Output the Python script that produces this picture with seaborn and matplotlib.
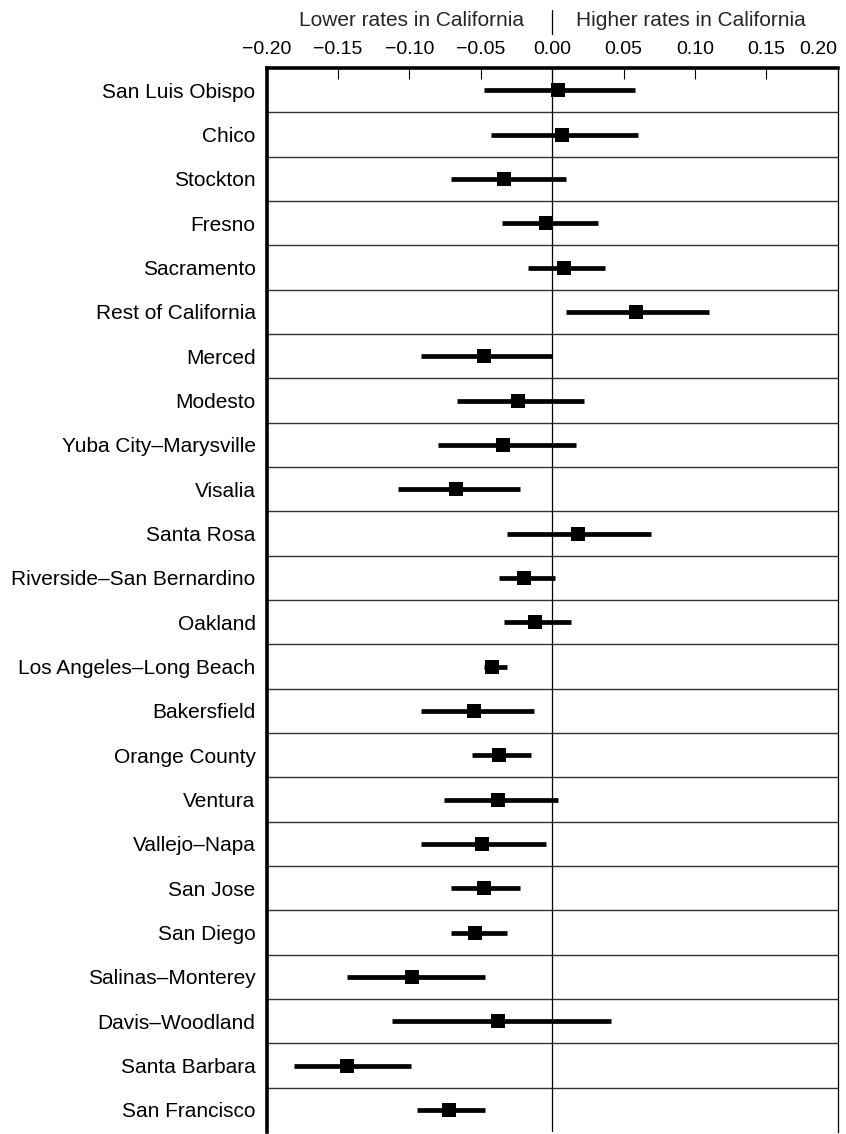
import numpy as np
import pandas as pd
import matplotlib
matplotlib.use("Agg")
import matplotlib.pyplot as plt
import matplotlib.transforms as mtransforms
from matplotlib.lines import Line2D
import seaborn as sns

# ---------------- data ----------------
CITIES = [
    "San Luis Obispo", "Chico", "Stockton", "Fresno", "Sacramento",
    "Rest of California", "Merced", "Modesto", "Yuba City–Marysville",
    "Visalia", "Santa Rosa", "Riverside–San Bernardino", "Oakland",
    "Los Angeles–Long Beach", "Bakersfield", "Orange County", "Ventura",
    "Vallejo–Napa", "San Jose", "San Diego", "Salinas–Monterey",
    "Davis–Woodland", "Santa Barbara", "San Francisco",
]
ESTIMATE = [0.004, 0.007, -0.034, -0.0045, 0.008, 0.0586, -0.0476, -0.024,
            -0.0346, -0.0675, 0.018, -0.020, -0.012, -0.0424, -0.055, -0.037,
            -0.038, -0.049, -0.048, -0.054, -0.098, -0.038, -0.144, -0.072]
LOWER = [-0.048, -0.043, -0.071, -0.035, -0.017, 0.0094, -0.0916, -0.067,
         -0.080, -0.108, -0.032, -0.037, -0.0335, -0.048, -0.0916, -0.056,
         -0.076, -0.0916, -0.071, -0.071, -0.144, -0.112, -0.181, -0.095]
UPPER = [0.058, 0.060, 0.0094, 0.032, 0.037, 0.110, 0.0, 0.0225,
         0.017, -0.0225, 0.069, 0.002, 0.013, -0.032, -0.013, -0.015,
         0.004, -0.004, -0.0225, -0.032, -0.047, 0.041, -0.099, -0.047]
TICKS = [-0.20, -0.15, -0.10, -0.05, 0.00, 0.05, 0.10, 0.15, 0.20]
TICK_LABELS = ["−0.20", "−0.15", "−0.10", "−0.05", "0.00",
               "0.05", "0.10", "0.15", "0.20"]
HEADER_LEFT = "Lower rates in California"
HEADER_RIGHT = "Higher rates in California"

# long table: lower / estimate / upper per city
rows = []
for c, lo, est, hi in zip(CITIES, LOWER, ESTIMATE, UPPER):
    for v in (lo, est, hi):
        rows.append({"city": c, "value": v})
df = pd.DataFrame(rows)

# ---------------- style ----------------
sns.set_style("white")
plt.rcParams["font.family"] = ["Liberation Sans", "DejaVu Sans"]

W, H = 846, 1134
fig = plt.figure(figsize=(W / 100, H / 100), dpi=100)
ax_left, ax_right = 266.7, 837.7
ax_top, ax_bot = 68.0, 1132.0
ax = fig.add_axes([ax_left / W, 1 - ax_bot / H,
                   (ax_right - ax_left) / W, (ax_bot - ax_top) / H])

# row separators and zero line
for i in range(1, len(CITIES)):
    ax.axhline(i - 0.5, color="#333333", lw=1.0, zorder=0.5)
ax.axvline(0, color="black", lw=0.9, zorder=0.6)

sns.pointplot(
    data=df, x="value", y="city", order=CITIES, orient="h",
    estimator=np.median,
    errorbar=lambda v: (v.min(), v.max()),
    markers="s", linestyles="none", color="black",
    err_kws={"linewidth": 3.4, "solid_capstyle": "butt"},
    markersize=9.5, markeredgewidth=0,
    ax=ax,
)

ax.set_xlim(-0.20, 0.20)
ax.set_ylim(len(CITIES) - 0.5, -0.5)
ax.set_xlabel("")
ax.set_ylabel("")

# x axis on top
ax.xaxis.tick_top()
ax.set_xticks(TICKS)
ax.set_xticklabels(TICK_LABELS, fontsize=14)
ax.tick_params(axis="x", direction="in", length=8, width=0.8, pad=7,
               top=True, bottom=False, colors="black")
labels = ax.get_xticklabels()
labels[-1].set_ha("right")

ax.tick_params(axis="y", length=0, pad=8, labelsize=15, colors="black")

# spines
for s in ax.spines.values():
    s.set_color("black")
ax.spines["left"].set_linewidth(2.6)
ax.spines["top"].set_linewidth(2.6)
ax.spines["right"].set_linewidth(0.9)
ax.spines["bottom"].set_visible(False)

# header
blend = mtransforms.blended_transform_factory(ax.transData, fig.transFigure)
y_head = 1 - 20.5 / H
fig.text(0, y_head, HEADER_LEFT, fontsize=15, ha="right", va="center",
         transform=mtransforms.offset_copy(blend, fig=fig, x=-20.6, y=0, units="points"))
fig.text(0, y_head, HEADER_RIGHT, fontsize=15, ha="left", va="center",
         transform=mtransforms.offset_copy(blend, fig=fig, x=17.0, y=0, units="points"))
fig.add_artist(Line2D([0, 0], [1 - 10 / H, 1 - 34 / H], transform=blend,
                      color="black", lw=0.9))

fig.savefig("out.png", dpi=100)
